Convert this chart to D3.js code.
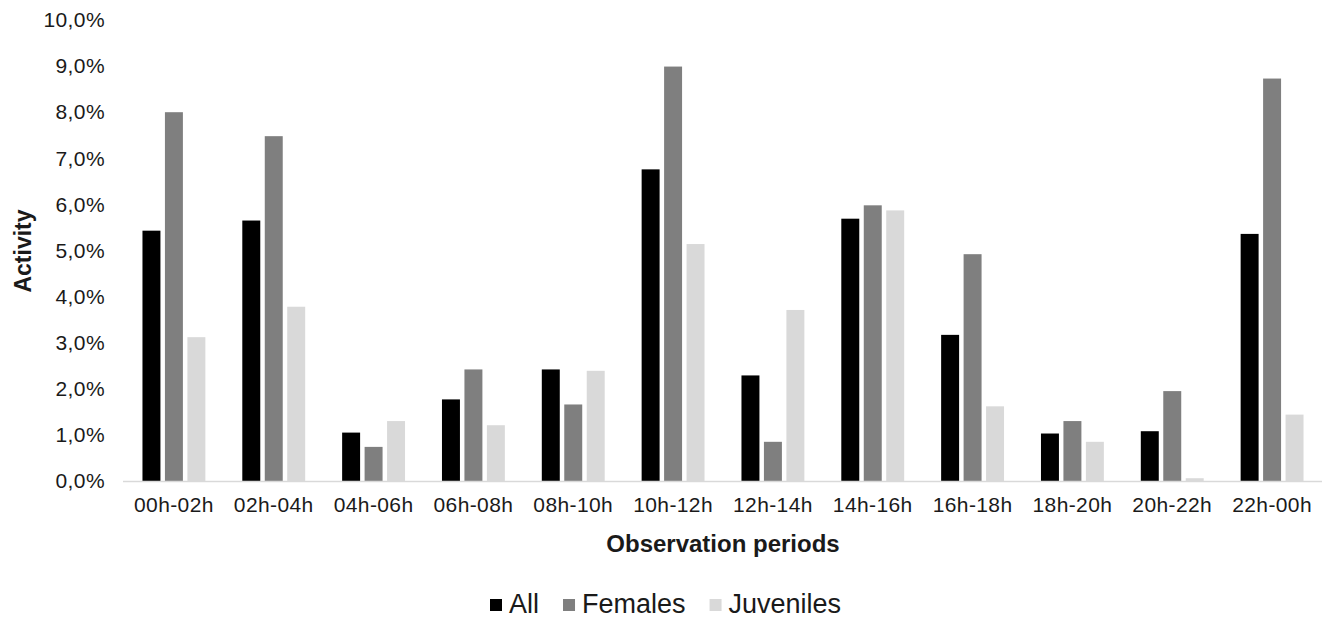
<!DOCTYPE html>
<html>
<head>
<meta charset="utf-8">
<script src="https://cdn.jsdelivr.net/npm/d3@7"></script>
<style>
	body { margin: 0; background: #fff; }
	text { font-family: "Liberation Sans", Arial, sans-serif; fill: #1a1a1a; }
</style>
</head>
<body>
<div id="chart"></div>
<script>
var periods = ["00h-02h", "02h-04h", "04h-06h", "06h-08h", "08h-10h", "10h-12h",
	"12h-14h", "14h-16h", "16h-18h", "18h-20h", "20h-22h", "22h-00h"];

var seriesNames = ["All", "Females", "Juveniles"];

var allValues = [5.43, 5.65, 1.05, 1.77, 2.42, 6.76, 2.29, 5.69, 3.17, 1.03, 1.08, 5.36];
var femaleValues = [8.00, 7.48, 0.74, 2.42, 1.66, 8.99, 0.85, 5.98, 4.92, 1.30, 1.95, 8.73];
var juvenileValues = [3.12, 3.78, 1.30, 1.21, 2.39, 5.14, 3.71, 5.87, 1.62, 0.85, 0.06, 1.44];

var yTicks = [0, 1, 2, 3, 4, 5, 6, 7, 8, 9, 10];

var colors = ["#000000", "#7f7f7f", "#d9d9d9"];

var width = 1324,
	height = 619,
	plot = { left: 124, right: 1322, top: 20, bottom: 481 };

var svg = d3.select("#chart")
	.append("svg")
	.attr("width", width)
	.attr("height", height);

var x0 = d3.scaleBand()
	.domain(periods)
	.range([plot.left, plot.right])
	.paddingInner(0.37)
	.paddingOuter(0.185);

var x1 = d3.scaleBand()
	.domain(seriesNames)
	.range([0, x0.bandwidth()])
	.paddingInner(0.2);

var y = d3.scaleLinear()
	.domain([0, 10])
	.range([plot.bottom, plot.top]);

var rows = periods.map(function (p, i) {
	return { period: p, values: [allValues[i], femaleValues[i], juvenileValues[i]] };
});

// bars
var groups = svg.append("g")
	.selectAll("g")
	.data(rows)
	.join("g")
	.attr("transform", function (d) { return "translate(" + x0(d.period) + ",0)"; });

groups.selectAll("rect")
	.data(function (d) {
		return d.values.map(function (v, j) { return { name: seriesNames[j], value: v, idx: j }; });
	})
	.join("rect")
	.attr("x", function (d) { return x1(d.name); })
	.attr("y", function (d) { return y(d.value); })
	.attr("width", x1.bandwidth())
	.attr("height", function (d) { return y(0) - y(d.value); })
	.attr("fill", function (d) { return colors[d.idx]; });

// x axis
var xAxis = svg.append("g")
	.attr("transform", "translate(0," + plot.bottom + ")")
	.call(d3.axisBottom(x0).tickSize(0).tickPadding(16));
xAxis.select(".domain")
	.attr("d", "M" + (plot.left - 1) + ",0.5H" + plot.right)
	.attr("stroke", "#d9d9d9")
	.attr("stroke-width", 1.5);
xAxis.selectAll("text")
	.attr("font-size", 21)
	.attr("letter-spacing", 0.4)
	.attr("fill", "#1a1a1a");

// y axis
var yAxis = svg.append("g")
	.attr("transform", "translate(" + 105 + ",0)")
	.call(d3.axisLeft(y)
		.tickValues(yTicks)
		.tickSize(0)
		.tickPadding(0)
		.tickFormat(function (d) { return d3.format(".1f")(d).replace(".", ",") + "%"; }));
yAxis.select(".domain").remove();
yAxis.selectAll("text")
	.attr("font-size", 21)
	.attr("letter-spacing", 0.4)
	.attr("fill", "#1a1a1a");

// axis titles
svg.append("text")
	.attr("x", (plot.left + plot.right) / 2)
	.attr("y", 552)
	.attr("text-anchor", "middle")
	.attr("font-size", 24)
	.attr("font-weight", "bold")
	.text("Observation periods");

svg.append("text")
	.attr("transform", "translate(31,251) rotate(-90)")
	.attr("text-anchor", "middle")
	.attr("font-size", 23)
	.attr("font-weight", "bold")
	.text("Activity");

// legend
var legend = svg.append("g");
var lx = 490;
seriesNames.forEach(function (name, i) {
	var item = legend.append("g").attr("transform", "translate(" + lx + ",0)");
	item.append("rect")
		.attr("x", 0)
		.attr("y", 599)
		.attr("width", 12)
		.attr("height", 12)
		.attr("fill", colors[i]);
	var t = item.append("text")
		.attr("x", 19)
		.attr("y", 613)
		.attr("font-size", 27)
		.text(name);
	lx += 19 + t.node().getComputedTextLength() + 24;
});
</script>
</body>
</html>
